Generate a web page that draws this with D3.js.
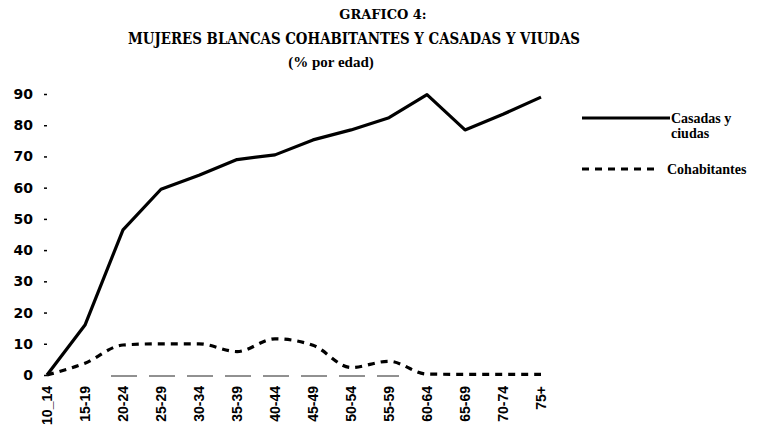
<!DOCTYPE html>
<html>
<head>
<meta charset="utf-8">
<script src="https://cdn.jsdelivr.net/npm/d3@7"></script>
<style>
  body { margin: 0; background: #fff; }
  svg { display: block; }
</style>
</head>
<body>
<svg id="chart"></svg>
<script>
// grupos de edad
const ages = ["10_14", "15-19", "20-24", "25-29", "30-34", "35-39", "40-44",
  "45-49", "50-54", "55-59", "60-64", "65-69", "70-74", "75+"];
// % casadas y viudas
const casadas = [0, 16, 46.5, 59.5, 64, 69, 70.5, 75.3, 78.5, 82.4, 89.8, 78.5, 83.5, 89];
// % cohabitantes
const cohabitantes = [0, 3.8, 9.6, 10, 10, 7.5, 11.6, 9.5, 2.4, 4.4, 0.3, 0.2, 0.2, 0.2];
const yTicks = [0, 10, 20, 30, 40, 50, 60, 70, 80, 90];

const width = 761, height = 435;

const svg = d3.select("#chart")
  .attr("width", width)
  .attr("height", height);

const x = d3.scalePoint()
  .domain(ages)
  .range([47, 541]);

const y = d3.scaleLinear()
  .domain([0, 90])
  .range([375, 94]);

// titulos
svg.append("text")
  .attr("x", 383).attr("y", 19)
  .attr("text-anchor", "middle")
  .style("font-family", "'DejaVu Serif', serif")
  .style("font-weight", "bold")
  .style("font-size", "13px")
  .text("GRAFICO 4:");

svg.append("text")
  .attr("x", 128).attr("y", 44)
  .attr("textLength", 452)
  .attr("lengthAdjust", "spacingAndGlyphs")
  .style("font-family", "'DejaVu Serif', serif")
  .style("font-weight", "bold")
  .style("font-size", "16px")
  .text("MUJERES BLANCAS COHABITANTES Y CASADAS Y VIUDAS");

svg.append("text")
  .attr("x", 331).attr("y", 67)
  .attr("text-anchor", "middle")
  .style("font-family", "'Liberation Serif', serif")
  .style("font-weight", "bold")
  .style("font-size", "15px")
  .text("(% por edad)");

// eje y
const yAxis = svg.append("g")
  .attr("transform", "translate(47,0)")
  .call(d3.axisLeft(y).tickValues(yTicks).tickSize(3).tickPadding(11));
yAxis.select(".domain").remove();
yAxis.selectAll(".tick line").attr("stroke-width", 1.5);
yAxis.selectAll("text")
  .style("font-family", "'DejaVu Sans', sans-serif")
  .style("font-weight", "bold")
  .style("font-size", "14px")
  .attr("fill", "#000");

// linea base
svg.append("line")
  .attr("x1", x("20-24") - 12).attr("x2", x("55-59") + 10)
  .attr("y1", y(0) + 1).attr("y2", y(0) + 1)
  .attr("stroke", "#222")
  .attr("stroke-width", 1)
  .attr("stroke-dasharray", "26,12");

// eje x
svg.selectAll(".xlabel")
  .data(ages)
  .enter().append("text")
  .attr("class", "xlabel")
  .attr("transform", d => `translate(${x(d)},386) rotate(-90)`)
  .attr("dy", "0.36em")
  .attr("text-anchor", "end")
  .style("font-family", "'Liberation Sans', sans-serif")
  .style("font-weight", "bold")
  .style("font-size", "14px")
  .text(d => d);

// lineas
const solidLine = d3.line()
  .x((d, i) => x(ages[i]))
  .y(d => y(d));

const dashLine = d3.line()
  .x((d, i) => x(ages[i]))
  .y(d => y(d))
  .curve(d3.curveMonotoneX);

svg.append("path")
  .datum(casadas)
  .attr("d", solidLine)
  .attr("fill", "none")
  .attr("stroke", "#000")
  .attr("stroke-width", 3.2)
  .attr("stroke-linejoin", "round");

svg.append("path")
  .datum(cohabitantes)
  .attr("d", dashLine)
  .attr("fill", "none")
  .attr("stroke", "#000")
  .attr("stroke-width", 3.2)
  .attr("stroke-dasharray", "7,6");

// leyenda
const legendFont = sel => sel
  .style("font-family", "'Liberation Serif', serif")
  .style("font-weight", "bold")
  .style("font-size", "14px");

svg.append("line")
  .attr("x1", 582).attr("x2", 670)
  .attr("y1", 118).attr("y2", 118)
  .attr("stroke", "#000").attr("stroke-width", 3);
svg.append("text").attr("x", 671).attr("y", 123).call(legendFont).text("Casadas y");
svg.append("text").attr("x", 671).attr("y", 138).call(legendFont).text("ciudas");

svg.append("line")
  .attr("x1", 582).attr("x2", 656)
  .attr("y1", 169).attr("y2", 169)
  .attr("stroke", "#000").attr("stroke-width", 3)
  .attr("stroke-dasharray", "7,6");
svg.append("text").attr("x", 667).attr("y", 174).call(legendFont).text("Cohabitantes");
</script>
</body>
</html>
